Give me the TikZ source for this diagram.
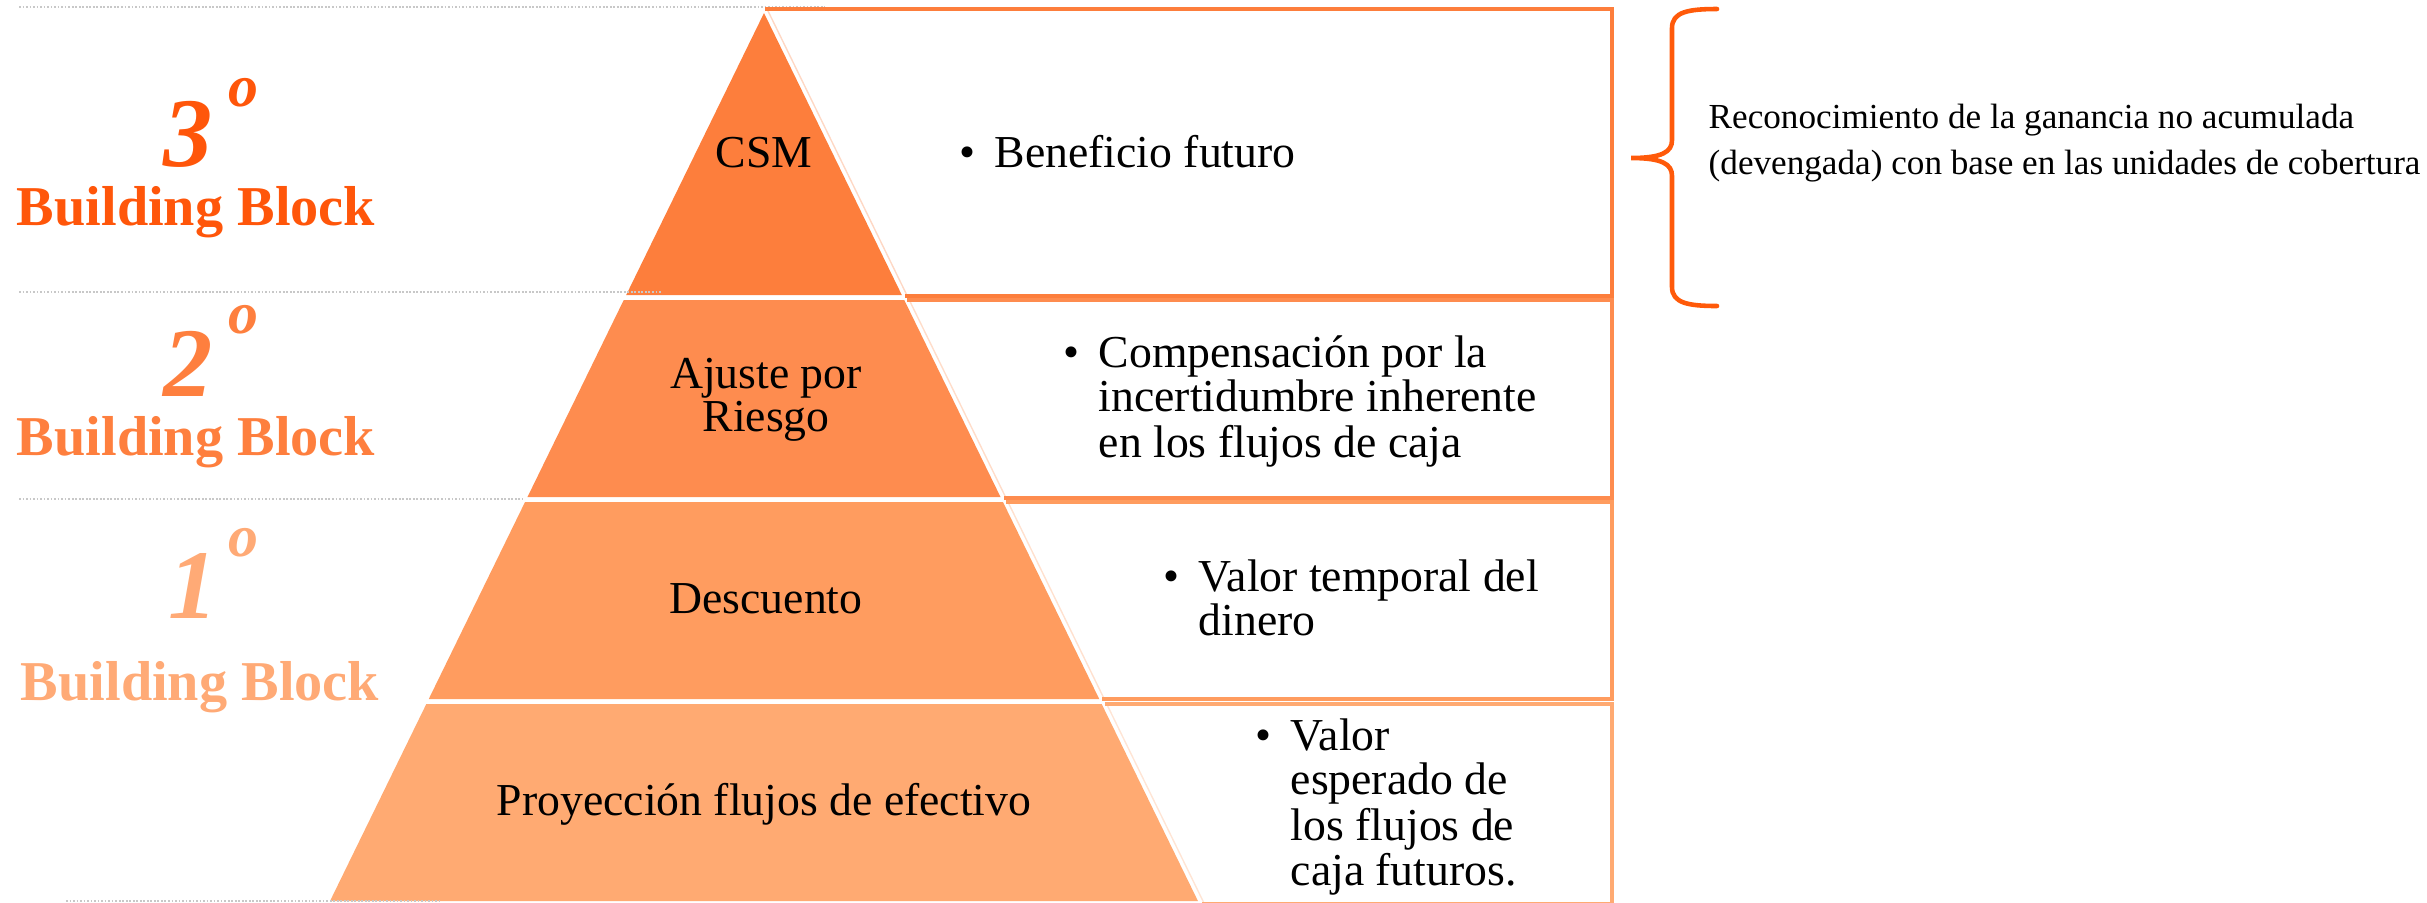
\documentclass[tikz,border=0pt]{standalone}
\usepackage{fontspec}
\setmainfont{Liberation Serif}

\definecolor{csmOrange}{HTML}{FD7E3C}
\definecolor{riskOrange}{HTML}{FE8C4F}
\definecolor{discOrange}{HTML}{FF9C5F}
\definecolor{flowOrange}{HTML}{FFAA72}
\definecolor{blockThree}{HTML}{FF560A}
\definecolor{blockTwo}{HTML}{FE7F3E}
\definecolor{blockOne}{HTML}{FFAA76}
\definecolor{dotGray}{HTML}{C8C8C8}
\definecolor{braceOrange}{HTML}{FF5A0A}

\newcommand{\Apex}{764}
\newcommand{\Slope}{0.4887}
\newcommand{\Lines}[2]{\begin{tabular}[t]{@{}#1@{}}#2\end{tabular}}
\newcommand{\Bullet}[1]{\makebox[0.35cm][l]{\textbullet}\Lines{l}{#1}}
\newcommand{\Layer}[3]{% fill, top y, bottom y
  \pgfmathsetmacro{\hwTop}{\Slope*(#2-13)}%
  \pgfmathsetmacro{\hwBot}{\Slope*(#3-13)}%
  \fill[#1] (\Apex-\hwTop,#2) -- (\Apex+\hwTop,#2) -- (\Apex+\hwBot,#3) -- (\Apex-\hwBot,#3) -- cycle;}
\newcommand{\Cell}[3]{% colour, top y, bottom y
  \pgfmathsetmacro{\hwTop}{\Slope*(#2-13)}%
  \pgfmathsetmacro{\hwBot}{\Slope*(#3-13)}%
  \draw[#1!30, line width=0.4pt] (\Apex+\hwTop+5,#2) -- (\Apex+\hwBot+5,#3);
  \draw[cellLine, #1] (\Apex+\hwTop+3,#2) -- (1612,#2) -- (1612,#3) -- (\Apex+\hwBot+3,#3);}

\tikzstyle{layerText} = [inner sep=0pt, anchor=base, font=\fontsize{13}{12.4}\selectfont]
\tikzstyle{itemText}  = [inner sep=0pt, anchor=base west, font=\fontsize{13}{12.4}\selectfont]
\tikzstyle{blockNum}  = [inner sep=0pt, anchor=base, font=\fontsize{28}{28}\selectfont\bfseries\itshape]
\tikzstyle{blockSup}  = [inner sep=0pt, anchor=base, font=\fontsize{17}{17}\selectfont\bfseries\itshape]
\tikzstyle{blockName} = [inner sep=0pt, anchor=base, font=\fontsize{16}{16}\selectfont\bfseries]
\tikzstyle{note}      = [inner sep=0pt, anchor=base west, font=\fontsize{10}{13.3}\selectfont]
\tikzstyle{guide}     = [dotGray, line width=0.6pt, dash pattern=on 0.5pt off 0.5pt]
\tikzstyle{cellLine}  = [line width=1pt]
\tikzstyle{brace}     = [braceOrange, line width=1.3pt, line cap=round]

\begin{document}
\begin{tikzpicture}[x=0.01cm, y=-0.01cm]
\useasboundingbox (0,0) rectangle (2427,902);

% Pyramid
\Layer{csmOrange}{13}{295}
\Layer{riskOrange}{300}{497}
\Layer{discOrange}{502}{699}
\Layer{flowOrange}{704}{901}

% Guide lines
\draw[guide] (19,7)   -- (825,7);
\draw[guide] (19,292) -- (661,292);
\draw[guide] (19,499) -- (523,499);
\draw[guide] (66,901) -- (439,901);

% Cells
\Cell{flowOrange}{704}{904}
\Cell{discOrange}{502}{699}
\Cell{riskOrange}{300}{498}
\Cell{csmOrange}{9}{296}

% Define nodes
\node[layerText] (csm)    at (764,167) {CSM};
\node[layerText] (ajuste) at (766,388) {\Lines{c}{Ajuste por\\Riesgo}};
\node[layerText] (desc)   at (766,613) {Descuento};
\node[layerText] (proy)   at (764,815) {Proyección flujos de efectivo};

\node[itemText] (i1) at (959,167)  {\Bullet{Beneficio futuro}};
\node[itemText] (i2) at (1063,367) {\Bullet{Compensación por la\\incertidumbre inherente\\en los flujos de caja}};
\node[itemText] (i3) at (1163,591) {\Bullet{Valor temporal del\\dinero}};
\node[itemText] (i4) at (1255,750) {\Bullet{Valor\\esperado de\\los flujos de\\caja futuros.}};

\node[blockNum, blockThree]  (n3)  at (188,166) {3};
\node[blockSup, blockThree]  (o3)  at (243,106) {o};
\node[blockName, blockThree] (bb3) at (196,225) {Building Block};

\node[blockNum, blockTwo]  (n2)  at (188,396) {2};
\node[blockSup, blockTwo]  (o2)  at (243,333) {o};
\node[blockName, blockTwo] (bb2) at (196,455) {Building Block};

\node[blockNum, blockOne]  (n1)  at (193,618) {1};
\node[blockSup, blockOne]  (o1)  at (243,556) {o};
\node[blockName, blockOne] (bb1) at (200,700) {Building Block};

% Brace
\draw[brace] (1717,9) .. controls (1688,9) and (1672,12) .. (1672,28)
  -- (1672,140) .. controls (1672,152) and (1662,158) .. (1631,158)
  .. controls (1662,158) and (1672,164) .. (1672,176)
  -- (1672,287) .. controls (1672,303) and (1688,306) .. (1717,306);
\node[note] (recon) at (1708,128) {\Lines{l}{Reconocimiento de la ganancia no acumulada\\(devengada) con base en las unidades de cobertura}};
\end{tikzpicture}
\end{document}
